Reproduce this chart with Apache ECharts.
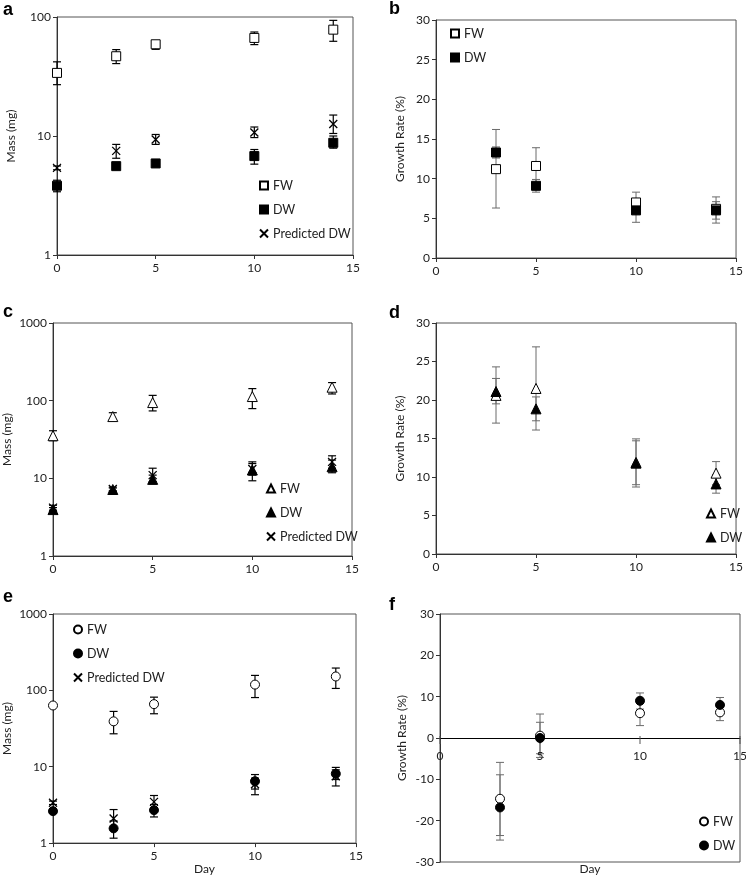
<!DOCTYPE html>
<html><head><meta charset="utf-8">
<script src="https://cdn.jsdelivr.net/npm/echarts@6/dist/echarts.min.js"></script>
<style>html,body{margin:0;padding:0;background:#fff}#c{width:746px;height:876px}</style>
</head><body><div id="c"></div>
<script>
// ---- data ----
const days = [0, 3, 5, 10, 14];
const growthDays = [3, 5, 10, 14];
const massTicks = ['1', '10', '100', '1000'];
const dayTicks = [0, 5, 10, 15];

// panel a (mass, mg)
const aFW = [33.9, 46.8, 59, 66.7, 78.3];
const aFWlo = [27, 40.6, 53.5, 58.6, 62.5];
const aFWhi = [42, 53.2, 63, 74.8, 93.7];
const aDW = [3.82, 5.58, 5.88, 6.78, 8.77];
const aDWlo = [3.4, 5.4, 5.7, 5.8, 7.9];
const aDWhi = [4.25, 5.8, 6.1, 7.7, 10.0];
const aPred = [5.4, 7.5, 9.35, 10.7, 12.6];
const aPredLo = [5.2, 6.5, 8.5, 9.7, 10.5];
const aPredHi = [5.6, 8.5, 10.3, 11.9, 15.0];

// panel b (growth rate, %)
const bFW = [11.2, 11.6, 7.0, 6.2];
const bFWlo = [6.3, 9.3, 5.7, 4.4];
const bFWhi = [16.2, 13.9, 8.3, 7.7];
const bDW = [13.3, 9.1, 6.0, 6.0];
const bDWlo = [12.6, 8.3, 4.5, 4.9];
const bDWhi = [14.0, 9.9, 7.5, 7.1];

// panel c
const cFW = [35.4, 62.4, 94.5, 113, 149];
const cFWlo = [30.5, 56.5, 73.8, 79, 122];
const cFWhi = [41, 70, 117, 143, 171];
const cDW = [3.96, 7.18, 9.7, 12.8, 14.1];
const cDWlo = [3.7, 6.8, 8.5, 9.3, 11.8];
const cDWhi = [4.2, 7.5, 11, 16.3, 17.2];
const cPred = [4.2, 7.3, 11, 13.2, 16.3];
const cPredLo = [3.9, 6.9, 9.1, 11, 13.5];
const cPredHi = [4.5, 7.7, 13.5, 15.5, 19.5];

// panel d
const dFW = [20.6, 21.5, 11.9, 10.5];
const dFWlo = [17.0, 16.1, 8.7, 9.0];
const dFWhi = [24.3, 26.9, 14.95, 12.0];
const dDW = [21.1, 18.85, 11.8, 9.1];
const dDWlo = [19.5, 17.3, 9.0, 7.9];
const dDWhi = [22.8, 20.4, 14.7, 10.3];

// panel e
const eFW = [63.4, 39.3, 66, 119, 152];
const eFWlo = [63.4, 27, 49.4, 80.5, 106];
const eFWhi = [63.4, 53, 81.5, 157, 196];
const eDW = [2.62, 1.56, 2.7, 6.46, 8.1];
const eDWlo = [2.45, 1.16, 2.2, 5.1, 6.8];
const eDWhi = [2.8, 1.95, 3.2, 7.9, 9.8];
const ePred = [3.37, 2.1, 3.47, 5.9, 7.5];
const ePredLo = [3.2, 1.55, 2.9, 4.3, 5.6];
const ePredHi = [3.55, 2.75, 4.2, 7.1, 9.1];

// panel f
const fFW = [-14.7, 0.56, 6.0, 6.2];
const fFWlo = [-23.6, -4.7, 3.0, 4.2];
const fFWhi = [-5.9, 5.8, 9.0, 8.2];
const fDW = [-16.8, 0, 9.0, 8.0];
const fDWlo = [-24.7, -3.8, 7.0, 6.2];
const fDWhi = [-8.9, 3.8, 10.9, 9.8];

// ---- helpers ----
const FONT = 'Lato';
const crossPath = 'path://M0,0L10,10M10,0L0,10';
const hollow = {color: '#fff', borderColor: '#000', borderWidth: 1, opacity: 1};
const filled = {color: '#000', borderColor: '#000', borderWidth: 1, opacity: 1};
const crossStyle = {color: '#000', borderColor: '#000', borderWidth: 1.3, opacity: 1};

function pts(xs, ys) { return xs.map((x, i) => [x, ys[i]]); }
function errData(xs, lo, hi) { return xs.map((x, i) => [x, lo[i], hi[i]]); }

function errSeries(idx, xs, lo, hi, color, w) {
  return {
    type: 'custom', xAxisIndex: idx, yAxisIndex: idx, z: 1, silent: true,
    data: errData(xs, lo, hi),
    renderItem: function (params, api) {
      const x = api.value(0);
      const p1 = api.coord([x, api.value(1)]);
      const p2 = api.coord([x, api.value(2)]);
      const s = {stroke: color, lineWidth: w};
      return {type: 'group', children: [
        {type: 'line', shape: {x1: p1[0], y1: p1[1], x2: p2[0], y2: p2[1]}, style: s},
        {type: 'line', shape: {x1: p1[0] - 4, y1: p1[1], x2: p1[0] + 4, y2: p1[1]}, style: s},
        {type: 'line', shape: {x1: p2[0] - 4, y1: p2[1], x2: p2[0] + 4, y2: p2[1]}, style: s}
      ]};
    }
  };
}
function scat(idx, name, xs, ys, symbol, style, size) {
  return {type: 'scatter', name: name, xAxisIndex: idx, yAxisIndex: idx, z: 5,
    symbol: symbol, symbolSize: size || 9, itemStyle: style, data: pts(xs, ys)};
}

const grids = [
  {left: 57, top: 17, width: 296, height: 238},
  {left: 436, top: 20, width: 302, height: 238},
  {left: 53, top: 323, width: 299, height: 233},
  {left: 436, top: 323, width: 304, height: 231},
  {left: 53, top: 614, width: 303, height: 232},
  {left: 440, top: 614, width: 300, height: 249}
].map(g => Object.assign({show: true, borderColor: '#555', borderWidth: 1, backgroundColor: 'transparent'}, g));
// upper half of panel f: its bottom edge is the zero line, carrying the day axis line
grids.push({left: 440, top: 614, width: 300, height: 124.5, show: false});

const axisLbl = {fontFamily: FONT, fontSize: 12, color: '#222'};
function xAx(idx, extra) {
  return Object.assign({
    type: 'value', gridIndex: idx, position: 'bottom', min: 0, max: 15, interval: 5,
    axisLine: {show: true, onZero: false, lineStyle: {color: '#333', width: 1}},
    axisTick: {show: true, length: 4, lineStyle: {color: '#333'}},
    axisLabel: Object.assign({margin: 7}, axisLbl),
    splitLine: {show: false}
  }, extra || {});
}
function yLog(idx, max) {
  return {
    type: 'log', logBase: 10, gridIndex: idx, min: 1, max: max,
    name: 'Mass (mg)', nameLocation: 'middle', nameGap: 40, nameRotate: 90,
    nameTextStyle: {fontFamily: FONT, fontSize: 12, color: '#222'},
    axisLine: {show: true, lineStyle: {color: '#333'}},
    axisTick: {show: true, length: 4, lineStyle: {color: '#333'}},
    axisLabel: Object.assign({margin: 6, formatter: v => massTicks[Math.round(Math.log10(v))]}, axisLbl),
    splitLine: {show: false}, minorTick: {show: false}
  };
}
function yLin(idx, min, max, interval, gap) {
  return {
    type: 'value', gridIndex: idx, min: min, max: max, interval: interval,
    name: 'Growth Rate (%)', nameLocation: 'middle', nameGap: gap, nameRotate: 90,
    nameTextStyle: {fontFamily: FONT, fontSize: 12, color: '#222'},
    axisLine: {show: true, onZero: false, lineStyle: {color: '#333'}},
    axisTick: {show: true, length: 4, lineStyle: {color: '#333'}},
    axisLabel: Object.assign({margin: 6}, axisLbl),
    splitLine: {show: false}
  };
}
function legend(names, left, top) {
  return {
    data: names, orient: 'vertical', left: left, top: top, itemGap: 11,
    itemWidth: 8, itemHeight: 8, selectedMode: false,
    textStyle: {fontFamily: FONT, fontSize: 12.5, color: '#222'},
    formatter: n => n.slice(2)
  };
}

const BLK = '#000', GRY = '#6a6a6a';
const series = [
  // error bars
  errSeries(0, days, aFWlo, aFWhi, BLK, 1.2),
  errSeries(0, days, aDWlo, aDWhi, BLK, 1.2),
  errSeries(0, days, aPredLo, aPredHi, BLK, 1.2),
  errSeries(1, growthDays, bFWlo, bFWhi, GRY, 1),
  errSeries(1, growthDays, bDWlo, bDWhi, GRY, 1),
  errSeries(2, days, cFWlo, cFWhi, BLK, 1.2),
  errSeries(2, days, cDWlo, cDWhi, BLK, 1.2),
  errSeries(2, days, cPredLo, cPredHi, BLK, 1.2),
  errSeries(3, growthDays, dFWlo, dFWhi, GRY, 1),
  errSeries(3, growthDays, dDWlo, dDWhi, GRY, 1),
  errSeries(4, days, eFWlo, eFWhi, BLK, 1.2),
  errSeries(4, days, eDWlo, eDWhi, BLK, 1.2),
  errSeries(4, days, ePredLo, ePredHi, BLK, 1.2),
  errSeries(5, growthDays, fFWlo, fFWhi, GRY, 1),
  errSeries(5, growthDays, fDWlo, fDWhi, GRY, 1),
  // markers
  scat(0, 'a FW', days, aFW, 'rect', hollow),
  scat(0, 'a DW', days, aDW, 'rect', filled),
  scat(0, 'a Predicted DW', days, aPred, crossPath, crossStyle, 8),
  scat(1, 'b FW', growthDays, bFW, 'rect', hollow),
  scat(1, 'b DW', growthDays, bDW, 'rect', filled),
  scat(2, 'c FW', days, cFW, 'triangle', hollow, 10),
  scat(2, 'c DW', days, cDW, 'triangle', filled, 10),
  scat(2, 'c Predicted DW', days, cPred, crossPath, crossStyle, 8),
  scat(3, 'd FW', growthDays, dFW, 'triangle', hollow, 10),
  scat(3, 'd DW', growthDays, dDW, 'triangle', filled, 10),
  scat(4, 'e FW', days, eFW, 'circle', hollow),
  scat(4, 'e DW', days, eDW, 'circle', filled),
  scat(4, 'e Predicted DW', days, ePred, crossPath, crossStyle, 8),
  scat(5, 'f FW', growthDays, fFW, 'circle', hollow),
  scat(5, 'f DW', growthDays, fDW, 'circle', filled),
  // panel f: day tick labels sitting under the zero line
  {type: 'scatter', xAxisIndex: 5, yAxisIndex: 5, silent: true, z: 3,
    symbol: 'rect', symbolSize: [1, 8], symbolOffset: [0, 2], itemStyle: {color: '#555', opacity: 1},
    data: dayTicks.map(d => [d, 0]),
    label: {show: true, position: 'bottom', distance: 6, formatter: p => String(p.value[0]),
      fontFamily: FONT, fontSize: 12, color: '#222'}}
];

const letterStyle = {fontFamily: 'Liberation Sans', fontWeight: 'bold', fontSize: 18, fill: '#000'};
function letter(t, x, y) { return {type: 'text', left: x, top: y, style: Object.assign({text: t}, letterStyle)}; }

const option = {
  animation: false,
  backgroundColor: '#fff',
  grid: grids,
  xAxis: [
    xAx(0), xAx(1), xAx(2), xAx(3),
    xAx(4, {name: 'Day', nameLocation: 'middle', nameGap: 18, nameTextStyle: {fontFamily: FONT, fontSize: 12, color: '#222'}}),
    xAx(5, {axisLine: {show: false}, axisTick: {show: false}, axisLabel: {show: false},
      name: 'Day', nameLocation: 'middle', nameGap: 1, nameTextStyle: {fontFamily: FONT, fontSize: 12, color: '#222', verticalAlign: 'top'}}),
    xAx(6, {axisLine: {show: true, onZero: false, lineStyle: {color: '#000', width: 1}},
      axisTick: {show: false}, axisLabel: {show: false}})
  ],
  yAxis: [
    yLog(0, 100),
    yLin(1, 0, 30, 5, 30),
    yLog(2, 1000),
    yLin(3, 0, 30, 5, 30),
    yLog(4, 1000),
    yLin(5, -30, 30, 10, 32),
    {type: 'value', gridIndex: 6, min: 0, max: 30, show: false}
  ],
  legend: [
    legend(['a FW', 'a DW', 'a Predicted DW'], 254, 174),
    legend(['b FW', 'b DW'], 445, 22),
    legend(['c FW', 'c DW', 'c Predicted DW'], 261, 477),
    legend(['d FW', 'd DW'], 701, 502),
    legend(['e FW', 'e DW', 'e Predicted DW'], 68, 618),
    legend(['f FW', 'f DW'], 694, 810)
  ],
  graphic: [
    letter('a', 3, 1), letter('b', 389, 0), letter('c', 3, 303), letter('d', 389, 304),
    letter('e', 3, 588), letter('f', 389, 596)
  ],
  series: series
};

const chart = echarts.init(document.getElementById('c'), null, {renderer: 'canvas'});
chart.setOption(option);
</script></body></html>
